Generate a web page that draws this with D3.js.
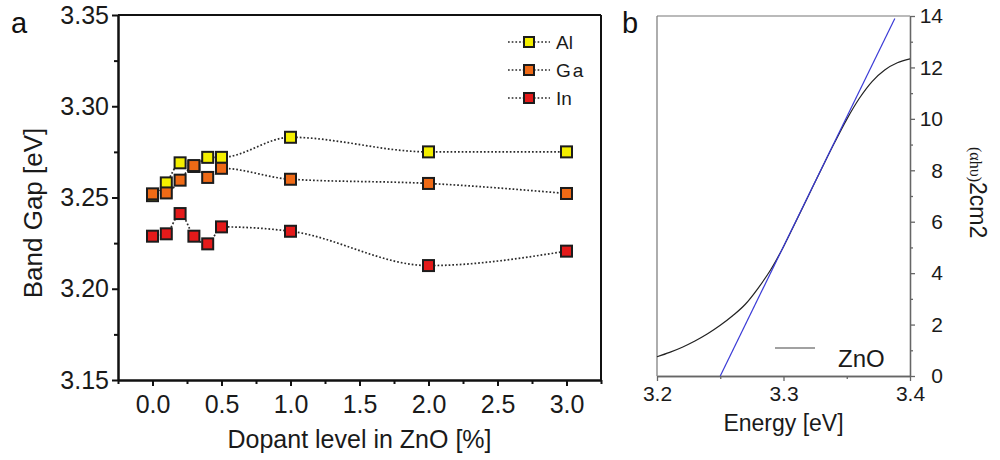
<!DOCTYPE html>
<html><head><meta charset="utf-8">
<script src="https://cdn.jsdelivr.net/npm/d3@7"></script>
<style>body{margin:0;background:#fff} svg{display:block}</style>
</head><body><svg id="c" width="1000" height="460"></svg>
<script>
// ---- Panel a data ----
const dopantLevels = [0, 0.1, 0.2, 0.3, 0.4, 0.5, 1.0, 2.0, 3.0];
const seriesNames = ["Al", "Ga", "In"];
const alValues = [3.251, 3.258, 3.269, 3.267, 3.272, 3.272, 3.283, 3.275, 3.275];
const gaValues = [3.252, 3.2525, 3.2595, 3.2675, 3.261, 3.266, 3.260, 3.2577, 3.2522];
const inValues = [3.2288, 3.2301, 3.2412, 3.2288, 3.2246, 3.2339, 3.2315, 3.2127, 3.2206];
const seriesColors = ["#f4ef00", "#ef6a16", "#e41a1a"];
const bandGapTicks = [3.15, 3.20, 3.25, 3.30, 3.35];
const bandGapMinorTicks = [3.175, 3.225, 3.275, 3.325];
const dopantTicks = [0, 0.5, 1.0, 1.5, 2.0, 2.5, 3.0];
const dopantMinorTicks = [-0.25, 0.25, 0.75, 1.25, 1.75, 2.25, 2.75, 3.25];

// ---- Panel b data ----
const energy = [3.20, 3.21, 3.22, 3.23, 3.24, 3.25, 3.26, 3.27, 3.28, 3.29, 3.30,
                3.31, 3.32, 3.33, 3.34, 3.35, 3.36, 3.37, 3.38, 3.39, 3.40];
const absorption = [0.75, 0.92, 1.12, 1.36, 1.64, 1.97, 2.35, 2.8, 3.42, 4.14, 5.03,
                    6.03, 7.04, 8.05, 9.04, 9.98, 10.8, 11.45, 11.9, 12.18, 12.33];
const fitEnergy = [3.25, 3.388];
const fitValue = [0, 13.9];
const energyTicks = [3.2, 3.3, 3.4];
const energyMinorTicks = [3.25, 3.35];
const absTicks = [0, 2, 4, 6, 8, 10, 12, 14];
const absMinorTicks = [1, 3, 5, 7, 9, 11, 13];

const svg = d3.select("#c");
const FONT = "Liberation Sans, Arial, Helvetica, sans-serif";
svg.style("font-family", FONT);

// ================= Panel a =================
const xa = d3.scaleLinear([-0.25, 3.25], [118, 601]);
const ya = d3.scaleLinear([3.15, 3.35], [380, 15]);

const ga = svg.append("g");
ga.append("line").attr("x1", xa.range()[0]).attr("x2", xa.range()[1]).attr("y1", ya.range()[1]).attr("y2", ya.range()[1])
  .attr("stroke", "#111").attr("stroke-width", 2);
ga.append("line").attr("x1", xa.range()[1]).attr("x2", xa.range()[1]).attr("y1", ya.range()[1]).attr("y2", ya.range()[0])
  .attr("stroke", "#111").attr("stroke-width", 2);

function styleAxis(g, w, col, fs) {
  g.selectAll("path.domain").attr("stroke", col).attr("stroke-width", w);
  g.selectAll(".tick line").attr("stroke", col).attr("stroke-width", w);
  g.selectAll(".tick text").attr("fill", "#1a1a1a").style("font-size", fs + "px").style("font-family", FONT);
}

const yAxisA = ga.append("g").attr("transform", `translate(${xa.range()[0]},0)`)
  .call(d3.axisLeft(ya).tickValues(bandGapTicks).tickFormat(d3.format(".2f")).tickSize(6).tickSizeOuter(0).tickPadding(3));
styleAxis(yAxisA, 2, "#111", 25);
const yMinA = ga.append("g").attr("transform", `translate(${xa.range()[0]},0)`)
  .call(d3.axisLeft(ya).tickValues(bandGapMinorTicks).tickFormat("").tickSize(4).tickSizeOuter(0));
styleAxis(yMinA, 2, "#111", 25);

const xAxisA = ga.append("g").attr("transform", `translate(0,${ya.range()[0]})`)
  .call(d3.axisBottom(xa).tickValues(dopantTicks).tickFormat(d3.format(".1f")).tickSize(6).tickSizeOuter(0).tickPadding(9));
styleAxis(xAxisA, 2, "#111", 25);
const xMinA = ga.append("g").attr("transform", `translate(0,${ya.range()[0]})`)
  .call(d3.axisBottom(xa).tickValues(dopantMinorTicks).tickFormat("").tickSize(4).tickSizeOuter(0));
styleAxis(xMinA, 2, "#111", 25);

ga.append("text").attr("x", (xa.range()[0] + xa.range()[1]) / 2).attr("y", 448)
  .attr("text-anchor", "middle").style("font-size", "25px").attr("fill", "#1a1a1a")
  .text("Dopant level in ZnO [%]");
ga.append("text").attr("transform", "translate(42,213) rotate(-90)")
  .attr("text-anchor", "middle").style("font-size", "26px").attr("fill", "#1a1a1a")
  .text("Band Gap [eV]");
svg.append("text").attr("x", 11).attr("y", 33).style("font-size", "29px").attr("fill", "#111").text("a");

const seriesValues = [alValues, gaValues, inValues];
const lineA = d3.line().x(d => xa(d[0])).y(d => ya(d[1])).curve(d3.curveMonotoneX);
seriesValues.forEach((vals) => {
  const pts = dopantLevels.map((x, i) => [x, vals[i]]);
  ga.append("path").attr("d", lineA(pts)).attr("fill", "none")
    .attr("stroke", "#2a2a2a").attr("stroke-width", 1.7).attr("stroke-dasharray", "1.7 2");
});
const MS = 11;
seriesValues.forEach((vals, s) => {
  ga.append("g").selectAll("rect").data(dopantLevels.map((x, i) => [x, vals[i]])).join("rect")
    .attr("x", d => xa(d[0]) - MS / 2).attr("y", d => ya(d[1]) - MS / 2)
    .attr("width", MS).attr("height", MS)
    .attr("fill", seriesColors[s]).attr("stroke", "#1c1c1c").attr("stroke-width", 2);
});

// legend a
const legY = [42, 70, 98];
seriesNames.forEach((name, s) => {
  const lg = ga.append("g");
  lg.append("line").attr("x1", 508).attr("x2", 550).attr("y1", legY[s]).attr("y2", legY[s])
    .attr("stroke", "#2a2a2a").attr("stroke-width", 1.7).attr("stroke-dasharray", "1.7 2");
  lg.append("rect").attr("x", 529 - 5).attr("y", legY[s] - 5).attr("width", 10).attr("height", 10)
    .attr("fill", seriesColors[s]).attr("stroke", "#1c1c1c").attr("stroke-width", 2);
  lg.append("text").attr("x", 556).attr("y", legY[s] + 7).style("font-size", "19px")
    .attr("fill", "#1a1a1a").style("letter-spacing", name === "Ga" ? "2px" : "0px").text(name);
});

// ================= Panel b =================
const xb = d3.scaleLinear([3.2, 3.4], [657, 910]);
const yb = d3.scaleLinear([0, 14], [376, 16]);
const gb = svg.append("g");

gb.append("line").attr("x1", xb.range()[0]).attr("x2", xb.range()[1]).attr("y1", yb.range()[1]).attr("y2", yb.range()[1])
  .attr("stroke", "#777").attr("stroke-width", 1.2);
gb.append("line").attr("x1", xb.range()[0]).attr("x2", xb.range()[0]).attr("y1", yb.range()[1]).attr("y2", yb.range()[0])
  .attr("stroke", "#777").attr("stroke-width", 1.2);

const xAxisB = gb.append("g").attr("transform", `translate(0,${yb.range()[0]})`)
  .call(d3.axisBottom(xb).tickValues(energyTicks).tickFormat(d3.format(".1f")).tickSize(5).tickSizeOuter(0).tickPadding(5));
styleAxis(xAxisB, 1.3, "#666", 21);
const xMinB = gb.append("g").attr("transform", `translate(0,${yb.range()[0]})`)
  .call(d3.axisBottom(xb).tickValues(energyMinorTicks).tickFormat("").tickSize(3).tickSizeOuter(0));
styleAxis(xMinB, 1.3, "#666", 21);

const yAxisB = gb.append("g").attr("transform", `translate(${xb.range()[1]},0)`)
  .call(d3.axisRight(yb).tickValues(absTicks).tickFormat(d3.format("d")).tickSize(5).tickSizeOuter(0).tickPadding(5));
styleAxis(yAxisB, 1.3, "#666", 21);
// right-align the tick labels as in the reference
yAxisB.selectAll(".tick text").attr("x", 33).attr("text-anchor", "end");
const yMinB = gb.append("g").attr("transform", `translate(${xb.range()[1]},0)`)
  .call(d3.axisRight(yb).tickValues(absMinorTicks).tickFormat("").tickSize(3).tickSizeOuter(0));
styleAxis(yMinB, 1.3, "#666", 21);

const lineB = d3.line().x(d => xb(d[0])).y(d => yb(d[1])).curve(d3.curveMonotoneX);
gb.append("path").attr("d", lineB(energy.map((e, i) => [e, absorption[i]])))
  .attr("fill", "none").attr("stroke", "#222").attr("stroke-width", 1.2);
gb.append("path").attr("d", d3.line().x(d => xb(d[0])).y(d => yb(d[1]))(fitEnergy.map((e, i) => [e, fitValue[i]])))
  .attr("fill", "none").attr("stroke", "#3a3ad6").attr("stroke-width", 1.2);

// legend b
gb.append("line").attr("x1", 775).attr("x2", 815).attr("y1", 348).attr("y2", 348).attr("stroke", "#444").attr("stroke-width", 1.1);
gb.append("text").attr("x", 838).attr("y", 367).style("font-size", "24px").attr("fill", "#1a1a1a").text("ZnO");

gb.append("text").attr("x", (xb.range()[0] + xb.range()[1]) / 2).attr("y", 431)
  .attr("text-anchor", "middle").style("font-size", "23px").attr("fill", "#1a1a1a").text("Energy [eV]");

const yl = gb.append("text").attr("transform", "translate(970,147) rotate(90)").attr("fill", "#1a1a1a");
yl.append("tspan").style("font-size", "16px").style("font-family", "Liberation Serif, Times New Roman, serif").text("(αhυ)");
yl.append("tspan").style("font-size", "23px").text("2cm2");

svg.append("text").attr("x", 622).attr("y", 33).style("font-size", "29px").attr("fill", "#111").text("b");
</script>
</body></html>
